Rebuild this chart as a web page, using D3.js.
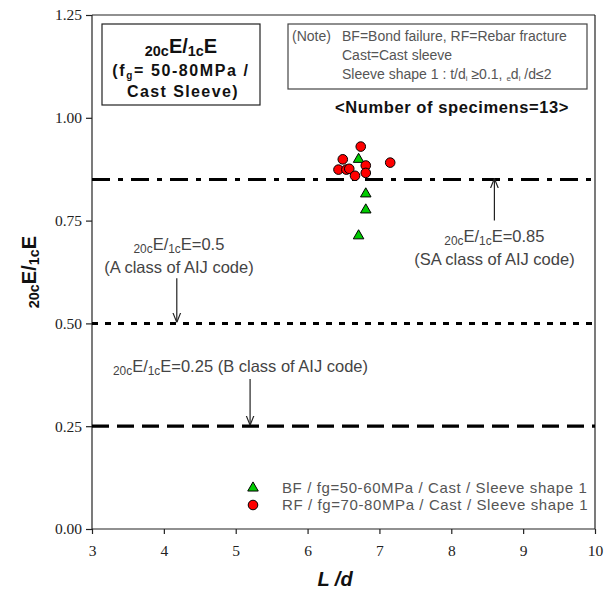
<!DOCTYPE html>
<html>
<head>
<meta charset="utf-8">
<script src="https://cdn.jsdelivr.net/npm/d3@7"></script>
<style>
  body { margin: 0; background: #fff; }
  svg text { font-family: "Liberation Sans", Arial, sans-serif; }
  .tick text { font-family: "Liberation Serif", "Times New Roman", serif; font-size: 15.5px; fill: #222; }
</style>
</head>
<body>
<svg id="chart" width="611" height="592"></svg>
<script>
// BF points (green triangles)
const bfLd = [6.71, 6.81, 6.81, 6.71];
const bfE  = [0.899, 0.815, 0.776, 0.713];
// RF points (red circles)
const rfLd = [6.74, 6.49, 7.15, 6.81, 6.43, 6.54, 6.58, 6.81, 6.66];
const rfE  = [0.930, 0.899, 0.891, 0.884, 0.874, 0.874, 0.876, 0.866, 0.859];

const xTicks = [3, 4, 5, 6, 7, 8, 9, 10];
const yTicks = [0, 0.25, 0.5, 0.75, 1.0, 1.25];
const refLevels = [0.85, 0.5, 0.25];

const margin = {top: 15, right: 16, bottom: 63, left: 92};
const width = 611 - margin.left - margin.right;
const height = 592 - margin.top - margin.bottom;

const svg = d3.select('#chart');
const g = svg.append('g').attr('transform', `translate(${margin.left},${margin.top})`);

const x = d3.scaleLinear().domain([3, 10]).range([0, width]);
const y = d3.scaleLinear().domain([0, 1.25]).range([height, 0]);

// frame (top and right)
g.append('line').attr('x1', 0).attr('x2', width).attr('y1', 0).attr('y2', 0).attr('stroke', '#222').attr('stroke-width', 1.2);
g.append('line').attr('x1', width).attr('x2', width).attr('y1', 0).attr('y2', height).attr('stroke', '#222').attr('stroke-width', 1.2);

const xAxis = g.append('g').attr('class', 'x axis')
  .attr('transform', `translate(0,${height})`)
  .call(d3.axisBottom(x).tickValues(xTicks).tickSize(5).tickPadding(11).tickFormat(d3.format('d')));
const yAxis = g.append('g').attr('class', 'y axis')
  .call(d3.axisLeft(y).tickValues(yTicks).tickSize(6).tickPadding(4).tickFormat(d3.format('.2f')));
svg.selectAll('.axis path, .axis line').attr('stroke', '#222').attr('stroke-width', 1.2);
yAxis.select('.domain').attr('d', `M0,${height}V0`);
xAxis.select('.domain').attr('d', `M0,0H${width}`);

// reference lines
const refStyle = {
  0.85: {dash: '18,8,5,8', w: 3},
  0.5: {dash: '6,7', w: 3},
  0.25: {dash: '17,8', w: 3.2}
};
g.selectAll('line.ref').data(refLevels).enter().append('line')
  .attr('class', 'ref')
  .attr('x1', 0).attr('x2', width)
  .attr('y1', d => y(d)).attr('y2', d => y(d))
  .attr('stroke', '#000')
  .attr('stroke-width', d => refStyle[d].w)
  .attr('stroke-dasharray', d => refStyle[d].dash);

// arrows
svg.append('defs').append('marker')
  .attr('id', 'arr').attr('viewBox', '0 0 10 10').attr('refX', 10).attr('refY', 5)
  .attr('markerWidth', 8).attr('markerHeight', 8).attr('orient', 'auto')
  .append('path').attr('d', 'M0,1 L10,5 L0,9').attr('fill', 'none').attr('stroke', '#222').attr('stroke-width', 1.2);

const arrows = [
  {lv: 0.85, ld: 8.6, from: 0.75},
  {lv: 0.5, ld: 4.18, from: 0.61},
  {lv: 0.25, ld: 5.2, from: 0.365}
];
g.selectAll('line.arrow').data(arrows).enter().append('line')
  .attr('x1', d => x(d.ld)).attr('x2', d => x(d.ld))
  .attr('y1', d => y(d.from)).attr('y2', d => y(d.lv) - 1)
  .attr('stroke', '#222').attr('stroke-width', 1.2)
  .attr('marker-end', 'url(#arr)');

// E ratio label helper
function ratioText(sel, tail, size) {
  sel.append('tspan').text('20c').attr('font-size', size * 0.72).attr('dy', 3);
  sel.append('tspan').text('E/').attr('dy', -3);
  sel.append('tspan').text('1c').attr('font-size', size * 0.72).attr('dy', 3);
  sel.append('tspan').text('E' + tail).attr('dy', -3);
}

const labelCol = '#444';
const fs = 16.5;
const t85 = g.append('text').attr('x', x(8.6)).attr('y', 227).attr('text-anchor', 'middle')
  .attr('font-size', fs).attr('fill', labelCol);
ratioText(t85, '=0.85', fs);
g.append('text').attr('x', x(8.6)).attr('y', 250).attr('text-anchor', 'middle')
  .attr('font-size', fs).attr('fill', labelCol).text('(SA class of AIJ code)');

const t50 = g.append('text').attr('x', x(4.21)).attr('y', 235).attr('text-anchor', 'middle')
  .attr('font-size', fs).attr('fill', labelCol);
ratioText(t50, '=0.5', fs);
g.append('text').attr('x', x(4.21)).attr('y', 258).attr('text-anchor', 'middle')
  .attr('font-size', fs).attr('fill', labelCol).text('(A class of AIJ code)');

const t25 = g.append('text').attr('x', 21).attr('y', 357).attr('text-anchor', 'start')
  .attr('font-size', fs).attr('fill', labelCol);
ratioText(t25, '=0.25 (B class of AIJ code)', fs);

// points
const tri = d3.symbol().type(d3.symbolTriangle).size(48);
g.selectAll('path.bf').data(bfLd).enter().append('path')
  .attr('class', 'bf')
  .attr('d', tri)
  .attr('transform', (d, i) => `translate(${x(d)},${y(bfE[i])})`)
  .attr('fill', '#00cc00').attr('stroke', '#000').attr('stroke-width', 1);

g.selectAll('circle.rf').data(rfLd).enter().append('circle')
  .attr('class', 'rf')
  .attr('cx', d => x(d)).attr('cy', (d, i) => y(rfE[i]))
  .attr('r', 4.8)
  .attr('fill', '#ff0000').attr('stroke', '#000').attr('stroke-width', 1);

// title box
svg.append('rect').attr('x', 102).attr('y', 24).attr('width', 158).attr('height', 81)
  .attr('fill', '#fff').attr('stroke', '#222').attr('stroke-width', 1.2);
const tt = svg.append('text').attr('x', 181).attr('y', 53).attr('text-anchor', 'middle')
  .attr('font-size', 20).attr('font-weight', 'bold').attr('fill', '#111');
ratioText(tt, '', 20);
const t2 = svg.append('text').attr('x', 181).attr('y', 76).attr('text-anchor', 'middle')
  .attr('font-size', 16).attr('font-weight', 'bold').attr('fill', '#111').attr('letter-spacing', 1.6);
t2.append('tspan').text('(f');
t2.append('tspan').text('g').attr('font-size', 10).attr('dy', 3);
t2.append('tspan').text('= 50-80MPa /').attr('dy', -3);
svg.append('text').attr('x', 183).attr('y', 97).attr('text-anchor', 'middle')
  .attr('font-size', 16).attr('font-weight', 'bold').attr('fill', '#111').attr('letter-spacing', 1.4)
  .text('Cast Sleeve)');

// note box
svg.append('rect').attr('x', 288).attr('y', 24).attr('width', 299).attr('height', 65)
  .attr('fill', '#fff').attr('stroke', '#444').attr('stroke-width', 1.2);
const noteCol = '#555';
svg.append('text').attr('x', 292).attr('y', 41).attr('font-size', 14).attr('fill', noteCol).text('(Note)');
svg.append('text').attr('x', 342).attr('y', 41).attr('font-size', 14).attr('fill', noteCol).text('BF=Bond failure, RF=Rebar fracture');
svg.append('text').attr('x', 342).attr('y', 60).attr('font-size', 14).attr('fill', noteCol).text('Cast=Cast sleeve');
const n3 = svg.append('text').attr('x', 342).attr('y', 79).attr('font-size', 14).attr('fill', noteCol);
n3.append('tspan').text('Sleeve shape 1 : t/d');
n3.append('tspan').text('i').attr('font-size', 8).attr('dy', 2);
n3.append('tspan').text(' ≥0.1, ').attr('dy', -2);
n3.append('tspan').text('e').attr('font-size', 8).attr('dy', 2);
n3.append('tspan').text('d').attr('dy', -2);
n3.append('tspan').text('i').attr('font-size', 8).attr('dy', 2);
n3.append('tspan').text(' /d≤2').attr('dy', -2);

svg.append('text').attr('x', 335).attr('y', 113).attr('font-size', 16.5).attr('font-weight', 'bold')
  .attr('fill', '#111').attr('letter-spacing', 0.6).text('<Number of specimens=13>');

// legend
const legend = [
  {type: 'tri', label: 'BF / fg=50-60MPa / Cast / Sleeve shape 1'},
  {type: 'circ', label: 'RF / fg=70-80MPa / Cast / Sleeve shape 1'}
];
const lg = svg.append('g').attr('transform', 'translate(253,488)');
legend.forEach((d, i) => {
  if (d.type === 'tri') {
    lg.append('path').attr('d', tri).attr('transform', `translate(0,${i * 17})`)
      .attr('fill', '#00cc00').attr('stroke', '#000');
  } else {
    lg.append('circle').attr('cx', 0).attr('cy', i * 17).attr('r', 4.8)
      .attr('fill', '#ff0000').attr('stroke', '#000');
  }
  lg.append('text').attr('x', 29).attr('y', i * 17 + 5).attr('font-size', 15)
    .attr('fill', noteCol).attr('letter-spacing', 0.6).text(d.label);
});

// axis titles
const yl = svg.append('text').attr('transform', `translate(36,${margin.top + height / 2}) rotate(-90)`)
  .attr('text-anchor', 'middle').attr('font-size', 20).attr('font-weight', 'bold').attr('fill', '#111');
ratioText(yl, '', 20);

svg.append('text').attr('x', 335).attr('y', 586).attr('text-anchor', 'middle')
  .attr('font-family', '"Liberation Serif", "Times New Roman", serif')
  .attr('font-size', 20).attr('font-weight', 'bold').attr('font-style', 'italic').attr('fill', '#111')
  .text('L /d');
</script>
</body>
</html>
